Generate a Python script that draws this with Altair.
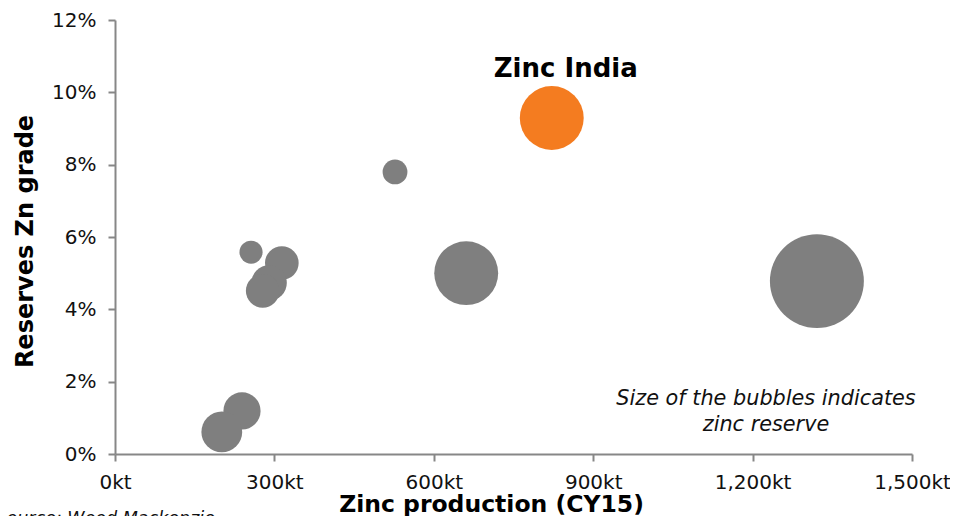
import math
import altair as alt
import pandas as pd

# Data
companies = ["Zinc India", "Peer 1", "Peer 2", "Peer 3", "Peer 4",
             "Peer 5", "Peer 6", "Peer 7", "Peer 8", "Peer 9"]
production_kt = [822, 1321, 661, 527, 256, 314, 290, 278, 239, 201]
grade_pct = [9.29, 4.78, 5.00, 7.80, 5.58, 5.28, 4.73, 4.51, 1.19, 0.61]
reserve = [13.0, 28.1, 13.0, 1.96, 1.7, 3.6, 4.0, 3.6, 4.4, 5.3]
group = ["Zinc India" if c == "Zinc India" else "Other" for c in companies]

df = pd.DataFrame({
    "company": companies,
    "production": production_kt,
    "grade": [g / 100 for g in grade_pct],
    "reserve": reserve,
    "group": group,
})
df["order"] = [1 if g == "Zinc India" else 0 for g in group]

FONT = "DejaVu Sans"
AXIS_COLOR = "#878787"

x = alt.X("production:Q",
          scale=alt.Scale(domain=[0, 1500], nice=False),
          axis=alt.Axis(values=[0, 300, 600, 900, 1200, 1500],
                        labelExpr="format(datum.value, ',') + 'kt'",
                        grid=False, domainColor=AXIS_COLOR, domainWidth=2,
                        tickColor=AXIS_COLOR, tickWidth=2, tickSize=7,
                        labelFont=FONT, labelFontSize=20, labelColor="#111111",
                        labelPadding=11, labelFlush=False,
                        title="Zinc production (CY15)", titleFont=FONT,
                        titleFontSize=23.5, titleFontWeight="bold", titleColor="#000000",
                        titleX=376, titleY=50, titleBaseline="middle", titleAnchor="middle"))
y = alt.Y("grade:Q",
          scale=alt.Scale(domain=[0, 0.12], nice=False),
          axis=alt.Axis(values=[0, 0.02, 0.04, 0.06, 0.08, 0.10, 0.12], format=".0%",
                        grid=False, domainColor=AXIS_COLOR, domainWidth=2,
                        tickColor=AXIS_COLOR, tickWidth=2, tickSize=7,
                        labelFont=FONT, labelFontSize=20, labelColor="#111111",
                        labelPadding=12, labelFlush=False,
                        title="Reserves Zn grade", titleFont=FONT,
                        titleFontSize=24, titleFontWeight="bold", titleColor="#000000",
                        titleX=-90, titleY=221, titleAngle=-90, titleBaseline="middle",
                        titleAnchor="middle"))

bubbles = alt.Chart(df).mark_circle(opacity=1).encode(
    x=x, y=y,
    size=alt.Size("reserve:Q", scale=alt.Scale(domain=[0, 30], range=[0, math.pi * 100 * 30]),
                  legend=None),
    color=alt.Color("group:N", scale=alt.Scale(domain=["Zinc India", "Other"],
                                               range=["#F47C20", "#7F7F7F"]), legend=None),
    order=alt.Order("order:Q"),
)

label = alt.Chart(df[df["company"] == "Zinc India"]).mark_text(
    font=FONT, fontSize=26, fontWeight="bold", color="#000000",
    baseline="alphabetic", align="center", dx=14, dy=-41,
).encode(x="production:Q", y="grade:Q", text="company:N")

note_lines = ["Size of the bubbles indicates", "zinc reserve"]
note = alt.Chart(pd.DataFrame({"t": [note_lines]})).mark_text(
    font=FONT, fontSize=20.8, fontStyle="italic", color="#111111",
    align="center", baseline="middle", lineHeight=26,
).encode(x=alt.value(651), y=alt.value(379), text="t")

source = alt.Chart(pd.DataFrame({"t": ["Source: Wood Mackenzie"]})).mark_text(
    font=FONT, fontSize=17.5, fontStyle="italic", color="#111111",
    align="right", baseline="middle",
).encode(x=alt.value(100), y=alt.value(499), text="t")

chart = alt.layer(bubbles, label, note, source).properties(
    width=797, height=434,
    autosize=alt.AutoSizeParams(type="none"),
    padding={"left": 107, "top": 12, "right": 38, "bottom": 62},
).configure_view(strokeWidth=0)

chart.save("out.html", embed_options={"renderer": "svg", "actions": False})
